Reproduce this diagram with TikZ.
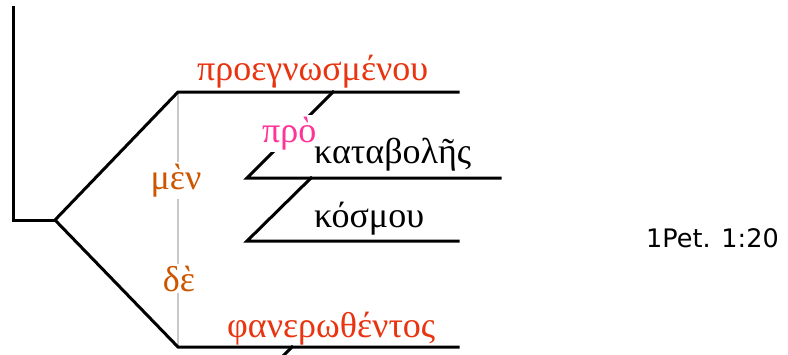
\documentclass[tikz,border=0pt]{standalone}
\usepackage{fontspec}
\setmainfont{Liberation Serif}
\newfontfamily\refsans{DejaVu Sans}
\definecolor{wordred}{RGB}{232,52,16}
\definecolor{conjor}{RGB}{204,85,0}
\definecolor{prepink}{RGB}{255,51,153}
\definecolor{guide}{RGB}{200,200,200}
\tikzset{
  diag/.style={line width=3pt, black, line cap=rect},
  greek/.style={font=\fontsize{36}{40}\selectfont, inner sep=0pt, anchor=base west},
  gapword/.style={greek, fill=white, inner sep=2pt},
}
\begin{document}
\begin{tikzpicture}[x=1pt,y=-1pt]
\clip (0,0) rectangle (788,354);
\useasboundingbox (0,0) rectangle (788,354);
% coordinates
\coordinate (t0) at (13,7);
\coordinate (t1) at (13,220);
\coordinate (fork) at (55,220);
\coordinate (upA) at (178,92);
\coordinate (upB) at (458,92);
\coordinate (dnA) at (178,347);
\coordinate (dnB) at (458,347);
\coordinate (d1a) at (333,92);
\coordinate (d1b) at (247,178);
\coordinate (kbB) at (500,178);
\coordinate (d2a) at (311,178);
\coordinate (d2b) at (247,241);
\coordinate (ksB) at (458,241);
\coordinate (stA) at (292,347);
\coordinate (stB) at (280,359);
% guide line
\draw[guide, line width=2.5pt] (upA) -- (dnA);
% main structure
\draw[diag] (t0) -- (t1) -- (fork);
\draw[diag] (upB) -- (upA) -- (fork) -- (dnA) -- (dnB);
\draw[diag] (d1a) -- (d1b) -- (kbB);
\draw[diag] (d2a) -- (d2b) -- (ksB);
\draw[diag] (stA) -- (stB);
% words
\node[greek, text=wordred] (w1) at (197,80) {προεγνωσμένου};
\node[gapword, text=prepink, anchor=base west] (w2) at (260,142) {πρὸ};
\node[greek] (w3) at (314,163) {καταβολῆς};
\node[greek] (w4) at (314,227) {κόσμου};
\node[greek, text=wordred] (w5) at (227,337) {φανερωθέντος};
\node[gapword, text=conjor, anchor=base] (c1) at (176,189) {μὲν};
\node[gapword, text=conjor, anchor=base] (c2) at (179,291) {δὲ};
\node[font=\refsans\fontsize{25.5}{28}\selectfont, anchor=base west, inner sep=0pt] (ref) at (646,247) {1Pet. 1:20};
\end{tikzpicture}
\end{document}
